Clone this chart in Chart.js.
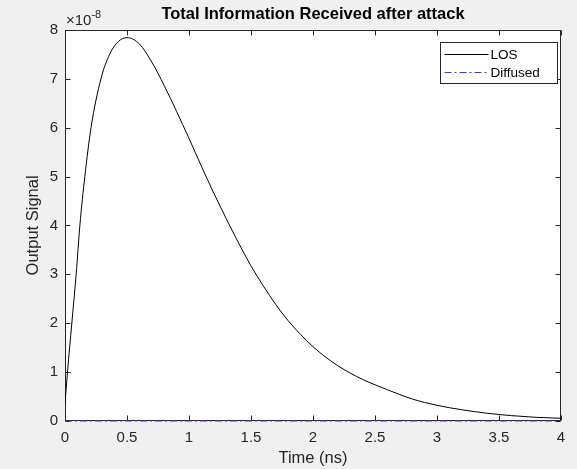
<!DOCTYPE html>
<html lang="en">
<head>
<meta charset="utf-8">
<title>Total Information Received after attack</title>
<script src="https://cdn.jsdelivr.net/npm/chart.js@4.4.1/dist/chart.umd.min.js"></script>
<style>
  html, body { margin: 0; padding: 0; background: #f0f0f0; }
  #wrap { width: 577px; height: 469px; }
</style>
</head>
<body>
<div id="wrap"><canvas id="signalChart" width="577" height="469"></canvas></div>
<script>
// time in ns, signal in units of 1e-8
const timeLOS = [0, 0.02, 0.055, 0.09, 0.12, 0.16, 0.21, 0.29, 0.36, 0.43, 0.5, 0.6, 0.7,
  0.8, 0.9, 1.0, 1.1, 1.2, 1.3, 1.4, 1.5, 1.6, 1.7, 1.8, 1.9, 2.0, 2.1, 2.2, 2.3, 2.4,
  2.5, 2.6, 2.7, 2.8, 2.9, 3.0, 3.2, 3.4, 3.6, 3.8, 4.0];
const signalLOS = [0.35, 1.0, 2.0, 3.0, 4.0, 5.0, 6.0, 7.0, 7.5, 7.76, 7.84, 7.71, 7.34,
  6.86, 6.33, 5.78, 5.21, 4.66, 4.14, 3.64, 3.17, 2.76, 2.38, 2.05, 1.77, 1.52, 1.31, 1.13,
  0.98, 0.85, 0.74, 0.64, 0.54, 0.45, 0.38, 0.32, 0.23, 0.16, 0.11, 0.075, 0.055];
const timeDiffused = [0, 4];
const signalDiffused = [0, 0];

const xTicks = [0, 0.5, 1, 1.5, 2, 2.5, 3, 3.5, 4];
const yTicks = [0, 1, 2, 3, 4, 5, 6, 7, 8];
const seriesNames = ["LOS", "Diffused"];
const yExponent = "-8";

const FONT = "'Liberation Sans', Arial, Helvetica, sans-serif";
const AXIS_COLOR = "#262626";

const toPoints = (xs, ys) => xs.map((x, i) => ({ x: x, y: ys[i] }));

// figure background + white axes area
const axesBackground = {
  id: "axesBackground",
  beforeDraw(chart) {
    const { ctx, chartArea: a } = chart;
    ctx.save();
    ctx.fillStyle = "#f0f0f0";
    ctx.fillRect(0, 0, chart.width, chart.height);
    ctx.fillStyle = "#ffffff";
    ctx.fillRect(a.left, a.top, a.right - a.left, a.bottom - a.top);
    ctx.restore();
  }
};

// box around the axes with inward ticks on all four sides
const axesBox = {
  id: "axesBox",
  beforeDatasetsDraw(chart) {
    const { ctx, chartArea: a, scales } = chart;
    const len = 5;
    const L = Math.round(a.left) + 0.5, R = Math.round(a.right) - 0.5;
    const T = Math.round(a.top) + 0.5, B = Math.round(a.bottom) - 0.5;
    ctx.save();
    ctx.strokeStyle = AXIS_COLOR;
    ctx.lineWidth = 1;
    ctx.strokeRect(L, T, R - L, B - T);
    ctx.beginPath();
    xTicks.forEach(v => {
      const px = Math.round(scales.x.getPixelForValue(v)) + 0.5;
      ctx.moveTo(px, B); ctx.lineTo(px, B - len);
      ctx.moveTo(px, T); ctx.lineTo(px, T + len);
    });
    yTicks.forEach(v => {
      const py = Math.round(scales.y.getPixelForValue(v)) + 0.5;
      ctx.moveTo(L, py); ctx.lineTo(L + len, py);
      ctx.moveTo(R, py); ctx.lineTo(R - len, py);
    });
    ctx.stroke();

    // exponent label above the y axis
    ctx.fillStyle = AXIS_COLOR;
    ctx.textBaseline = "alphabetic";
    ctx.textAlign = "left";
    ctx.font = "15px " + FONT;
    ctx.fillText("\u00d710", a.left + 1, a.top - 5);
    const w = ctx.measureText("\u00d710").width;
    ctx.font = "11px " + FONT;
    ctx.fillText(yExponent, a.left + 1 + w, a.top - 12);
    ctx.restore();
  }
};

// boxed legend in the upper right corner of the axes
const boxLegend = {
  id: "boxLegend",
  afterDraw(chart) {
    const { ctx, chartArea: a } = chart;
    const bw = 117, bh = 41;
    const bx = Math.round(a.right - 4 - bw) + 0.5;
    const by = Math.round(a.top + 12) + 0.5;
    ctx.save();
    ctx.fillStyle = "#ffffff";
    ctx.fillRect(bx, by, bw, bh);
    ctx.strokeStyle = AXIS_COLOR;
    ctx.lineWidth = 1;
    ctx.strokeRect(bx, by, bw, bh);
    ctx.font = "13.5px " + FONT;
    ctx.textBaseline = "middle";
    ctx.textAlign = "left";
    chart.data.datasets.forEach((ds, i) => {
      const ly = Math.round(by + 11.5 + i * 17.5) + 0.5;
      ctx.strokeStyle = ds.borderColor;
      ctx.lineWidth = ds.borderWidth;
      ctx.setLineDash(ds.borderDash || []);
      ctx.beginPath();
      ctx.moveTo(bx + 4, ly);
      ctx.lineTo(bx + 48, ly);
      ctx.stroke();
      ctx.setLineDash([]);
      ctx.fillStyle = "#000000";
      ctx.fillText(ds.label, bx + 50, ly + 0.5);
    });
    ctx.restore();
  }
};

new Chart(document.getElementById("signalChart"), {
  type: "line",
  data: {
    datasets: [
      {
        label: seriesNames[0],
        data: toPoints(timeLOS, signalLOS),
        borderColor: "#000000",
        borderWidth: 1,
        pointRadius: 0,
        cubicInterpolationMode: "monotone",
        fill: false
      },
      {
        label: seriesNames[1],
        data: toPoints(timeDiffused, signalDiffused),
        borderColor: "#3c3cc8",
        borderWidth: 1,
        borderDash: [7, 3, 2, 3],
        pointRadius: 0,
        fill: false,
        clip: 2
      }
    ]
  },
  options: {
    responsive: false,
    animation: false,
    layout: { padding: { top: 0, right: 16, bottom: 0, left: 0 } },
    plugins: {
      legend: { display: false },
      tooltip: { enabled: false },
      title: {
        display: true,
        text: "Total Information Received after attack",
        color: "#000000",
        fullSize: false,
        font: { family: FONT, size: 16.5, weight: "bold", lineHeight: 1.2 },
        padding: { top: 5, bottom: 5 }
      }
    },
    scales: {
      x: {
        type: "linear",
        min: 0,
        max: 4,
        grid: { display: false, drawTicks: false },
        border: { display: false },
        afterBuildTicks: s => { s.ticks = xTicks.map(v => ({ value: v })); },
        afterFit: s => { s.height = 48; },
        ticks: {
          color: AXIS_COLOR,
          padding: 8,
          maxRotation: 0,
          callback: v => String(v),
          font: { family: FONT, size: 15 }
        },
        title: {
          display: true,
          text: "Time (ns)",
          color: AXIS_COLOR,
          padding: { top: 0, bottom: 1 },
          font: { family: FONT, size: 16.5, lineHeight: 1.2 }
        }
      },
      y: {
        type: "linear",
        min: 0,
        max: 8,
        grid: { display: false, drawTicks: false },
        border: { display: false },
        afterBuildTicks: s => { s.ticks = yTicks.map(v => ({ value: v })); },
        afterFit: s => { s.width = 65; },
        ticks: {
          color: AXIS_COLOR,
          padding: 7,
          callback: v => String(v),
          font: { family: FONT, size: 15 }
        },
        title: {
          display: true,
          text: "Output Signal",
          color: AXIS_COLOR,
          padding: { top: 24, bottom: 0 },
          font: { family: FONT, size: 16.5, lineHeight: 1.2 }
        }
      }
    }
  },
  plugins: [axesBackground, axesBox, boxLegend]
});
</script>
</body>
</html>
